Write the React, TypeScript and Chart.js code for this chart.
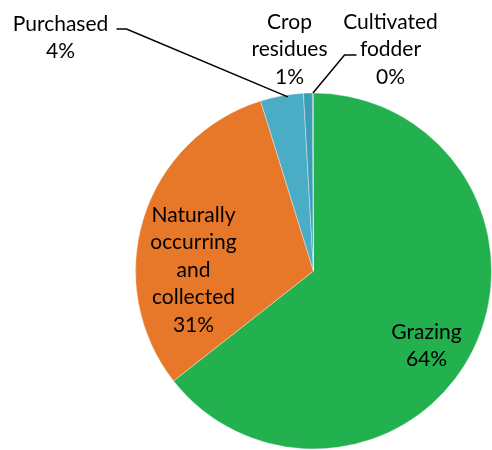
import React, { useEffect, useRef } from "react";
import { Chart, registerables } from "chart.js";

Chart.register(...registerables);

const categories = ["Grazing", "Naturally occurring and collected", "Purchased", "Crop residues", "Cultivated fodder"];
const values = [64.4, 30.8, 3.9, 0.8, 0.1];
const percentLabels = ["64%", "31%", "4%", "1%", "0%"];
const labelLines = [
  ["Grazing", percentLabels[0]],
  ["Naturally", "occurring", "and", "collected", percentLabels[1]],
  ["Purchased", percentLabels[2]],
  ["Crop", "residues", percentLabels[3]],
  ["Cultivated", "fodder", percentLabels[4]],
];
const colors = ["#23b04e", "#e7782a", "#4bacc6", "#3d9cb7", "#2e8fa8"];

// label layout (offsets from pie center, px)
const labelPos = [
  { x: 113, y: 61 },
  { x: -120, y: -56 },
  { x: -253, y: -247 },
  { x: -24, y: -249 },
  { x: 77, y: -249 },
];
const LINE_H = 27.5;

const labelPlugin = {
  id: "pieLabels",
  afterDraw(chart: any) {
    const ctx = chart.ctx;
    const meta = chart.getDatasetMeta(0);
    const arc0 = meta.data[0];
    const cx = arc0.x;
    const cy = arc0.y;
    const r = arc0.outerRadius;
    ctx.save();
    ctx.font = "21px Lato, 'Open Sans', sans-serif";
    ctx.fillStyle = "#000";
    ctx.textAlign = "center";
    ctx.textBaseline = "middle";
    labelLines.forEach((lines, i) => {
      const p = labelPos[i];
      lines.forEach((t, j) => {
        ctx.fillText(t, cx + p.x, cy + p.y + j * LINE_H);
      });
    });
    // leader lines
    ctx.strokeStyle = "#000";
    ctx.lineWidth = 1.5;
    const arcPoint = (idx: number) => {
      const a = meta.data[idx];
      const mid = (a.startAngle + a.endAngle) / 2;
      return { x: cx + Math.cos(mid) * r, y: cy + Math.sin(mid) * r };
    };
    // Purchased
    const pp = arcPoint(2);
    ctx.beginPath();
    ctx.moveTo(cx - 197, cy - 242);
    ctx.lineTo(cx - 187, cy - 242);
    ctx.lineTo(pp.x + 6, pp.y + 1);
    ctx.stroke();
    // Cultivated fodder
    const cp = arcPoint(4);
    ctx.beginPath();
    ctx.moveTo(cx + 43, cy - 216);
    ctx.lineTo(cx + 31, cy - 216);
    ctx.lineTo(cp.x, cp.y);
    ctx.stroke();
    ctx.restore();
  },
};

export default function App() {
  const ref = useRef<HTMLCanvasElement>(null);
  useEffect(() => {
    document.body.style.margin = "0";
    const chart = new Chart(ref.current!, {
      type: "pie",
      data: {
        labels: categories,
        datasets: [
          {
            data: values,
            backgroundColor: colors,
            borderColor: "rgba(255,255,255,0.35)",
            borderWidth: 1,
          },
        ],
      },
      options: {
        animation: false,
        responsive: false,
        rotation: 0,
        layout: { padding: { left: 135, right: 0, top: 92, bottom: 0 } },
        plugins: {
          legend: { display: false },
          tooltip: { enabled: false },
        },
      },
      plugins: [labelPlugin],
    });
    return () => chart.destroy();
  }, []);
  return (
    <div style={{ width: 492, height: 450 }}>
      <canvas ref={ref} width={492} height={450} style={{ display: "block" }} />
    </div>
  );
}
